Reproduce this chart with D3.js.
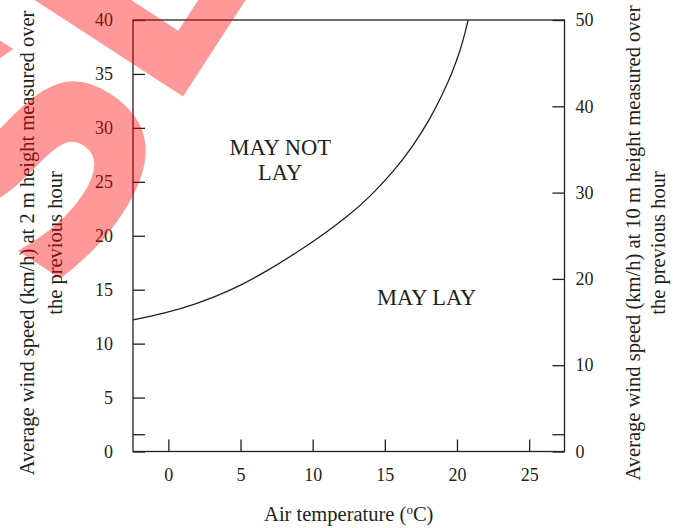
<!DOCTYPE html>
<html>
<head>
<meta charset="utf-8">
<script src="https://cdn.jsdelivr.net/npm/d3@7"></script>
<style>
  html, body { margin: 0; padding: 0; background: #fff; }
  svg { display: block; }
</style>
</head>
<body>
<div id="chart"></div>
<script>
// ── 1. Data ───────────────────────────────────
// boundary between "may lay" and "may not lay" (air temp °C, wind km/h at 2 m)
const boundaryTemp = [-2.45, -0.37, 1.99, 4.27, 6.56, 8.91, 10.72, 12.38, 13.97, 15.57, 16.95, 18.13, 19.03, 19.66, 20.21, 20.56, 20.77];
const boundaryWind = [12.2, 12.75, 13.7, 14.9, 16.5, 18.45, 20.1, 21.75, 23.6, 25.9, 28.3, 30.8, 33.2, 35.1, 37.1, 38.8, 40.0];

const xTicks      = [0, 5, 10, 15, 20, 25];
const yLeftTicks  = [0, 5, 10, 15, 20, 25, 30, 35, 40];
const yRightTicks = [0, 10, 20, 30, 40, 50];
const extraLeftTick  = 1.6;   // short unlabeled tick near the bottom
const extraRightTick = 2;

const regionLabels = [
  { lines: ["MAY NOT", "LAY"], temp: 7.75, wind: 27.5 },
  { lines: ["MAY LAY"],        temp: 17.9, wind: 13.6 },
];

const xTitle      = "Air temperature (";
const yLeftTitle  = ["Average wind speed (km/h) at 2 m height measured over", "the previous hour"];
const yRightTitle = ["Average wind speed (km/h) at 10 m height measured over", "the previous hour"];


// ── 2. Layout ─────────────────────────────────
const W = 681, H = 528;
const M = { top: 20, right: 116.5, bottom: 76.5, left: 133 };
const INK  = "#231f20";
const FONT = "'Liberation Serif', 'Times New Roman', serif";

const svg = d3.select("#chart").append("svg")
  .attr("width",  W)
  .attr("height", H);

const x  = d3.scaleLinear().domain([-2.45, 27.45]).range([M.left, W - M.right]);
const yL = d3.scaleLinear().domain([0, 40]).range([H - M.bottom, M.top]);
const yR = d3.scaleLinear().domain([0, 50]).range([H - M.bottom, M.top]);


// ── 3. Axes (ticks point inward) ─────────────
function styleAxis(g) {
  g.select(".domain").remove();
  g.selectAll(".tick line").attr("stroke", INK).attr("stroke-width", 1.3);
  g.selectAll(".tick text")
    .attr("fill", INK)
    .attr("font-family", FONT)
    .attr("font-size", "18px");
}

svg.append("g")
  .attr("transform", `translate(0,${H - M.bottom})`)
  .call(d3.axisBottom(x).tickValues(xTicks).tickSize(-12).tickPadding(17).tickFormat(d3.format("d")))
  .call(styleAxis);

svg.append("g")
  .attr("transform", `translate(${M.left},0)`)
  .call(d3.axisLeft(yL).tickValues([...yLeftTicks, extraLeftTick]).tickSize(-12).tickPadding(20)
    .tickFormat(d => d === extraLeftTick ? "" : d))
  .call(styleAxis);

svg.append("g")
  .attr("transform", `translate(${W - M.right},0)`)
  .call(d3.axisRight(yR).tickValues([...yRightTicks, extraRightTick]).tickSize(-12).tickPadding(11)
    .tickFormat(d => d === extraRightTick ? "" : d))
  .call(styleAxis);

// frame
svg.append("rect")
  .attr("x",      M.left)
  .attr("y",      M.top)
  .attr("width",  W - M.left - M.right)
  .attr("height", H - M.top - M.bottom)
  .attr("fill",   "none")
  .attr("stroke", INK)
  .attr("stroke-width", 1.3);


// ── 4. Boundary curve ─────────────────────────
const line = d3.line()
  .x((d, i) => x(boundaryTemp[i]))
  .y(d => yL(d))
  .curve(d3.curveBasis);

svg.append("path")
  .datum(boundaryWind)
  .attr("d", line)
  .attr("fill", "none")
  .attr("stroke", INK)
  .attr("stroke-width", 1.3);


// ── 5. Region labels ──────────────────────────
regionLabels.forEach(r => {
  const t = svg.append("text")
    .attr("x", x(r.temp))
    .attr("y", yL(r.wind))
    .attr("text-anchor", "middle")
    .attr("fill", INK)
    .attr("font-family", FONT)
    .attr("font-size", "22.5px");
  r.lines.forEach((s, i) => {
    t.append("tspan").attr("x", x(r.temp)).attr("dy", i ? 25 : 0).text(s);
  });
});


// ── 6. Axis titles ────────────────────────────
const xt = svg.append("text")
  .attr("x", (M.left + W - M.right) / 2)
  .attr("y", 521)
  .attr("text-anchor", "middle")
  .attr("fill", INK)
  .attr("font-family", FONT)
  .attr("font-size", "20.5px");
xt.append("tspan").text(xTitle);
xt.append("tspan").attr("dy", -7).attr("font-size", "13px").text("o");
xt.append("tspan").attr("dy", 7).text("C)");

function sideTitle(lines, xs) {
  lines.forEach((s, i) => {
    svg.append("text")
      .attr("transform", `translate(${xs[i]},243) rotate(-90)`)
      .attr("text-anchor", "middle")
      .attr("fill", INK)
      .attr("font-family", FONT)
      .attr("font-size", "20.5px")
      .text(s);
  });
}
sideTitle(yLeftTitle,  [33.5, 61.5]);
sideTitle(yRightTitle, [640, 665]);


// ── 7. Red stamp overlay ──────────────────────
const stamp = [
  { ch: "S", at: [57, 306],  size: 320 },
  { ch: "L", at: [169, 118], size: 280 },
];
stamp.forEach(s => {
  svg.append("text")
    .attr("transform", `translate(${s.at[0]},${s.at[1]}) rotate(-57)`)
    .attr("fill", "rgb(255,0,0)")
    .attr("fill-opacity", 0.4)
    .attr("font-family", "'DejaVu Sans', sans-serif")
    .attr("font-weight", "bold")
    .attr("font-size", `${s.size}px`)
    .text(s.ch);
});
</script>
</body>
</html>
